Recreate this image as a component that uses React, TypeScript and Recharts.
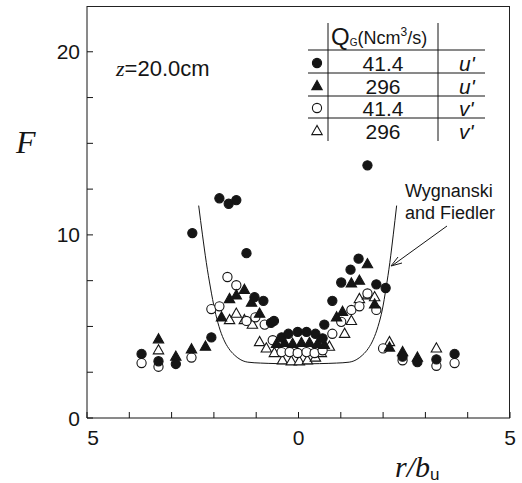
import * as React from "react";
import {
    ComposedChart,
    Scatter,
    Line,
    XAxis,
    YAxis,
} from "recharts";

// values: [r/bu, F]
const solidCircle41u: [number, number][] = [
    [-3.71, 3.5], [-3.31, 3.1], [-2.9, 2.95], [-2.51, 10.1], [-2.06, 4.4],
    [-1.87, 12.0], [-1.65, 11.7], [-1.47, 11.9], [-1.23, 9.0], [-1.04, 6.6],
    [-0.83, 6.4], [-0.65, 5.2], [-0.58, 5.3], [-0.4, 4.4], [-0.24, 4.6],
    [-0.02, 4.7], [0.19, 4.7], [0.4, 4.6], [0.57, 4.35], [0.61, 5.1],
    [0.8, 6.4], [1.01, 7.4], [1.23, 8.1], [1.42, 8.7], [1.63, 13.8],
    [1.84, 7.3], [2.06, 7.1], [2.46, 3.35], [2.81, 3.05], [3.26, 3.2], [3.69, 3.5],
];
const solidTriangle296u: [number, number][] = [
    [-3.31, 4.3], [-2.9, 3.35], [-2.53, 3.75], [-2.2, 3.9], [-1.82, 5.5],
    [-1.63, 6.5], [-1.47, 6.7], [-1.28, 7.0], [-1.11, 6.3], [-0.92, 5.7],
    [-0.52, 4.05], [-0.33, 4.1], [-0.14, 4.05], [0.07, 4.1], [0.26, 4.1],
    [0.45, 4.05], [0.61, 4.0], [0.9, 5.5], [1.04, 5.8], [1.25, 7.35],
    [1.44, 7.5], [1.63, 8.4], [1.8, 6.2], [2.15, 3.85], [2.46, 3.6], [2.81, 3.3],
];
const openCircle41v: [number, number][] = [
    [-3.71, 3.0], [-3.31, 2.8], [-2.53, 3.3], [-2.06, 5.95], [-1.87, 6.1],
    [-1.68, 7.7], [-1.47, 7.25], [-1.23, 5.3], [-1.02, 5.5], [-0.8, 5.1],
    [-0.61, 4.25], [-0.4, 3.6], [-0.21, 3.6], [-0.02, 3.55], [0.19, 3.6],
    [0.38, 3.55], [0.57, 3.7], [0.8, 4.6], [1.01, 5.25], [1.25, 5.9],
    [1.44, 6.1], [1.63, 6.8], [1.84, 5.9], [2.0, 3.8], [2.46, 3.15],
    [3.26, 2.85], [3.69, 3.0],
];
const openTriangle296v: [number, number][] = [
    [-3.31, 3.7], [-1.63, 5.35], [-1.47, 5.7], [-1.28, 5.35], [-1.09, 5.1],
    [-0.92, 4.15], [-0.76, 3.8], [-0.57, 3.55], [-0.38, 3.15], [-0.17, 3.1],
    [0.02, 3.1], [0.21, 3.15], [0.4, 3.3], [0.54, 3.55], [0.73, 3.9],
    [1.09, 4.6], [1.25, 5.3], [1.44, 6.5], [1.63, 6.7], [1.8, 6.6],
    [2.15, 4.15], [3.26, 3.8],
];
// Wygnanski and Fiedler curve
const wfCurve: [number, number][] = [
    [-2.36, 11.6], [-2.27, 10.0], [-2.18, 8.5], [-2.08, 7.1], [-1.98, 5.9],
    [-1.88, 5.0], [-1.77, 4.3], [-1.65, 3.8], [-1.52, 3.45], [-1.38, 3.2],
    [-1.2, 3.05], [-0.9, 3.0], [-0.5, 2.97], [0, 2.95], [0.5, 2.97],
    [0.9, 3.0], [1.2, 3.05], [1.38, 3.2], [1.52, 3.45], [1.65, 3.8],
    [1.77, 4.3], [1.88, 5.0], [1.98, 5.9], [2.07, 7.1], [2.16, 8.5],
    [2.24, 10.0], [2.32, 11.6],
];

const xTicks = [-5, -4, -3, -2, -1, 0, 1, 2, 3, 4, 5];
const xLabelled = [-5, 0, 5];
const yTicks = [0, 2.5, 5, 7.5, 10, 12.5, 15, 17.5, 20];
const yLabelled = [0, 10, 20];
const yTop = 22.5;

const legendRows = [
    { q: "41.4", comp: "u", shape: "solidCircle" },
    { q: "296", comp: "u", shape: "solidTriangle" },
    { q: "41.4", comp: "v", shape: "openCircle" },
    { q: "296", comp: "v", shape: "openTriangle" },
];

const toPts = (a: [number, number][]) => a.map(([x, y]) => ({ x, y }));

const INK = "#151515";
const SANS = "'Liberation Sans', Arial, Helvetica, sans-serif";
const SERIF = "'Liberation Serif', 'Times New Roman', serif";

const W = 522;
const H = 483;
const MARGIN = { top: 6, right: 12, bottom: 15, left: 27 };
const Y_AXIS_W = 60;
const X_AXIS_H = 50;
const plotLeft = MARGIN.left + Y_AXIS_W;
const plotRight = W - MARGIN.right;
const plotTop = MARGIN.top;
const plotBottom = H - MARGIN.bottom - X_AXIS_H;

function marker(kind: string, cx: number, cy: number, key?: string) {
    const open = kind.startsWith("open");
    const fill = open ? "#fff" : INK;
    if (kind.endsWith("Circle")) {
        return <circle key={key} cx={cx} cy={cy} r={4.6} fill={fill} stroke={INK} strokeWidth={1.1} />;
    }
    const pts = `${cx},${cy - 5.6} ${cx - 5.2},${cy + 3.6} ${cx + 5.2},${cy + 3.6}`;
    return <polygon key={key} points={pts} fill={fill} stroke={INK} strokeWidth={1.1} />;
}

const shapeFor = (kind: string) => (p: any) => marker(kind, p.cx, p.cy);

const XTick = (p: any) => {
    const v = p.payload.value;
    if (!xLabelled.includes(v)) return <g />;
    return (
        <text x={p.x + (v === -5 ? 6 : 0)} y={p.y} dy="0.72em" textAnchor="middle"
            fontFamily={SANS} fontSize={21} fill={INK}>
            {Math.abs(v)}
        </text>
    );
};

const YTick = (p: any) => {
    const v = p.payload.value;
    if (!yLabelled.includes(v)) return <g />;
    return (
        <text x={p.x} y={p.y} dy="0.36em" textAnchor="end" fontFamily={SANS} fontSize={21} fill={INK}>
            {v}
        </text>
    );
};

function Overlay() {
    const hLines = [50, 73, 96, 118];
    const rowBase = [71, 94, 116, 139];
    return (
        <svg width={W} height={H} style={{ position: "absolute", left: 0, top: 0, pointerEvents: "none" }}>
            {/* axis titles */}
            <text x={16} y={153} fontFamily={SERIF} fontStyle="italic" fontSize={32} fill={INK}>F</text>
            <text x={395} y={477} fill={INK}>
                <tspan fontFamily={SERIF} fontStyle="italic" fontSize={30}>r/b</tspan>
                <tspan fontFamily={SANS} fontSize={17} dy={3}>u</tspan>
            </text>

            {/* condition */}
            <text x={116} y={76} fill={INK} fontFamily={SANS} fontSize={22}>
                <tspan fontFamily={SERIF} fontStyle="italic">z</tspan>=20.0cm
            </text>

            {/* legend table */}
            {hLines.map((y) => (
                <line key={y} x1={308} x2={485} y1={y} y2={y} stroke={INK} strokeWidth={1} />
            ))}
            <line x1={328} x2={328} y1={23} y2={141} stroke={INK} strokeWidth={1} />
            <line x1={438} x2={438} y1={23} y2={141} stroke={INK} strokeWidth={1} />
            <text x={331} y={45} fill={INK} fontFamily={SANS}>
                <tspan fontSize={24}>Q</tspan>
                <tspan fontSize={10} dy={1}>G</tspan>
                <tspan fontSize={18} dy={-2}>(Ncm</tspan>
                <tspan fontSize={12} dy={-8}>3</tspan>
                <tspan fontSize={18} dy={8}>/s)</tspan>
            </text>
            {legendRows.map((r, i) => (
                <g key={i}>
                    {marker(r.shape, 317, rowBase[i] - 8)}
                    <text x={383} y={rowBase[i]} textAnchor="middle" fontFamily={SANS} fontSize={21} fill={INK}>
                        {r.q}
                    </text>
                    <text x={459} y={rowBase[i]} fontFamily={SANS} fontStyle="italic" fontSize={21} fill={INK}>
                        {r.comp}'
                    </text>
                </g>
            ))}

            {/* curve annotation */}
            <text x={405} y={197} fontFamily={SANS} fontSize={18} fill={INK}>Wygnanski</text>
            <text x={405} y={219} fontFamily={SANS} fontSize={18} fill={INK}>and Fiedler</text>
            <line x1={447} y1={226} x2={393} y2={265} stroke={INK} strokeWidth={1} />
            <polyline points="398,257 391,266 402,263" fill="none" stroke={INK} strokeWidth={1} />
        </svg>
    );
}

export default function App() {
    return (
        <div style={{ position: "absolute", left: 0, top: 0, width: W, height: H, background: "#fff" }}>
            <ComposedChart width={W} height={H} margin={MARGIN}>
                <XAxis
                    type="number"
                    dataKey="x"
                    domain={[-5, 5]}
                    ticks={xTicks}
                    allowDataOverflow
                    height={X_AXIS_H}
                    tickSize={-6}
                    tickMargin={18}
                    tick={<XTick />}
                    axisLine={{ stroke: INK }}
                    tickLine={{ stroke: INK }}
                />
                <YAxis
                    type="number"
                    dataKey="y"
                    domain={[0, yTop]}
                    ticks={yTicks}
                    allowDataOverflow
                    width={Y_AXIS_W}
                    tickSize={-6}
                    tickMargin={13}
                    tick={<YTick />}
                    axisLine={{ stroke: INK }}
                    tickLine={{ stroke: INK }}
                />
                <Line
                    data={toPts(wfCurve)}
                    dataKey="y"
                    type="monotone"
                    stroke={INK}
                    strokeWidth={1}
                    dot={false}
                    isAnimationActive={false}
                />
                <Scatter data={toPts(openTriangle296v)} dataKey="y" shape={shapeFor("openTriangle")} isAnimationActive={false} />
                <Scatter data={toPts(openCircle41v)} dataKey="y" shape={shapeFor("openCircle")} isAnimationActive={false} />
                <Scatter data={toPts(solidTriangle296u)} dataKey="y" shape={shapeFor("solidTriangle")} isAnimationActive={false} />
                <Scatter data={toPts(solidCircle41u)} dataKey="y" shape={shapeFor("solidCircle")} isAnimationActive={false} />
            </ComposedChart>
            <Overlay />
            {/* frame: top and right edges of the plot box */}
            <div
                style={{
                    position: "absolute",
                    left: plotLeft,
                    top: plotTop,
                    width: plotRight - plotLeft,
                    height: plotBottom - plotTop,
                    borderTop: "1px solid #222",
                    borderRight: "1px solid #222",
                    boxSizing: "border-box",
                    pointerEvents: "none",
                }}
            />
        </div>
    );
}
